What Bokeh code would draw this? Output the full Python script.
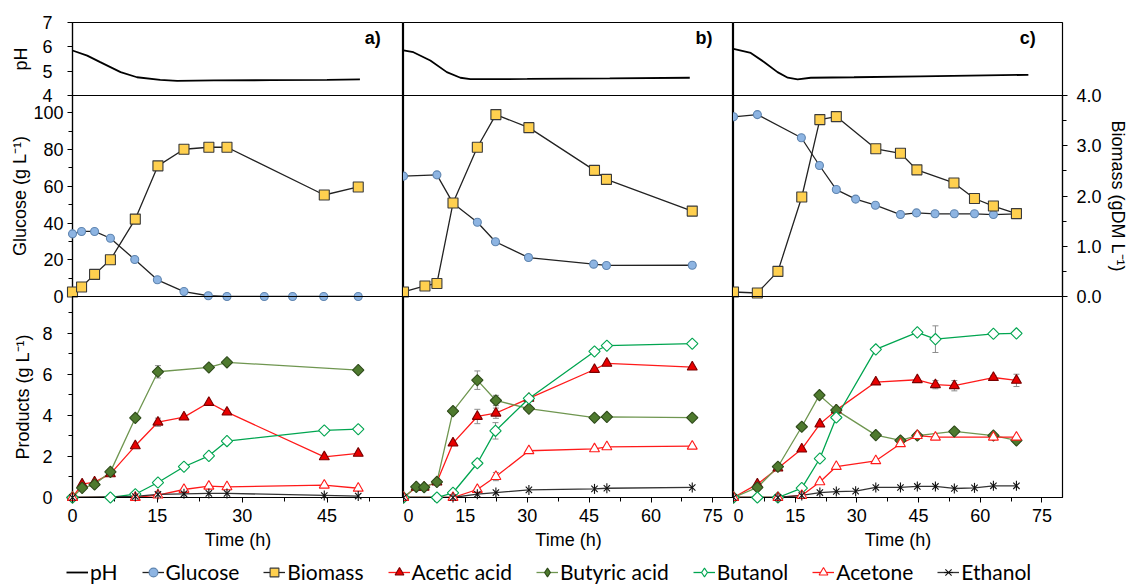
import math
from bokeh.plotting import figure
from bokeh.layouts import row, column
from bokeh.models import (Range1d, LinearAxis, FixedTicker, Whisker, TeeHead,
                          ColumnDataSource, Legend, LegendItem, Label, NumeralTickFormatter)
from bokeh.embed import file_html
from bokeh.resources import INLINE

# ---------------- data: panel a ----------------
a_ph_t = [0, 2.6, 4.9, 8.5, 11.4, 15.5, 18.5, 25, 35, 45, 50.8]
a_ph = [5.85, 5.64, 5.37, 4.96, 4.75, 4.64, 4.60, 4.62, 4.63, 4.64, 4.66]
a_glc_t = [0, 1.6, 3.9, 6.7, 11.0, 15.0, 19.7, 24.0, 27.3, 33.9, 38.9, 44.4, 50.5]
a_glc = [34.1, 35.4, 35.4, 31.7, 20.1, 9.1, 2.7, 0.4, 0, 0, 0, 0, 0]
a_bio_t = [0, 1.6, 3.9, 6.7, 11.1, 15.1, 19.7, 24.1, 27.3, 44.5, 50.5]
a_bio = [0.09, 0.19, 0.44, 0.73, 1.54, 2.60, 2.93, 2.97, 2.97, 2.02, 2.18]
a_acet_t = [0, 1.7, 3.9, 6.7, 11.1, 15.1, 19.7, 24.1, 27.3, 44.5, 50.5]
a_acet = [0, 0.65, 0.75, 1.15, 2.52, 3.67, 3.92, 4.63, 4.16, 1.98, 2.15]
a_buty_t = [0, 1.7, 3.9, 6.7, 11.1, 15.1, 24.1, 27.3, 50.5]
a_buty = [0, 0.47, 0.63, 1.25, 3.88, 6.13, 6.34, 6.59, 6.21]
a_buta_t = [0, 6.7, 11.1, 15.1, 19.7, 24.1, 27.3, 44.5, 50.5]
a_buta = [0, 0, 0.16, 0.73, 1.50, 2.03, 2.75, 3.27, 3.33]
a_acto_t = [0, 11.1, 15.1, 19.7, 24.1, 27.3, 44.5, 50.5]
a_acto = [0, 0, 0.12, 0.39, 0.55, 0.52, 0.60, 0.45]
a_eth_t = [0, 11.1, 15.1, 19.7, 24.1, 27.3, 44.5, 50.5]
a_eth = [0, 0.05, 0.15, 0.18, 0.20, 0.20, 0.10, 0.07]
a_err_x = [15.1, 15.1]
a_err_y = [6.13, 3.67]
a_err_d = [0.3, 0.2]

# ---------------- data: panel b ----------------
b_ph_t = [0, 2.4, 6.5, 10.5, 13.8, 16.2, 30, 50, 69.4]
b_ph = [5.85, 5.78, 5.44, 4.96, 4.73, 4.67, 4.68, 4.70, 4.73]
b_glc_t = [0, 8.1, 12.0, 17.9, 22.3, 30.3, 46.1, 49.2, 70.0]
b_glc = [65.5, 66.2, 50.8, 40.4, 29.8, 21.2, 17.6, 16.9, 17.0]
b_bio_t = [0, 5.2, 8.1, 12.0, 17.9, 22.4, 30.4, 46.3, 49.2, 70.0]
b_bio = [0.09, 0.21, 0.26, 1.86, 2.97, 3.62, 3.36, 2.51, 2.33, 1.70]
b_acet_t = [0, 3.1, 5.0, 8.1, 12.0, 17.9, 22.4, 30.4, 46.3, 49.3, 70.0]
b_acet = [0, 0.50, 0.50, 0.75, 2.65, 3.95, 4.11, 4.83, 6.24, 6.54, 6.36]
b_buty_t = [0, 3.1, 5.0, 8.1, 12.0, 17.9, 22.4, 30.4, 46.3, 49.3, 70.0]
b_buty = [0, 0.52, 0.50, 0.76, 4.21, 5.72, 4.73, 4.33, 3.89, 3.93, 3.89]
b_buta_t = [0, 8.1, 12.0, 17.9, 22.3, 30.4, 46.3, 49.3, 70.0]
b_buta = [0, 0, 0.23, 1.67, 3.25, 4.83, 7.12, 7.40, 7.50]
b_acto_t = [0, 12.0, 17.9, 22.4, 30.4, 46.3, 49.3, 70.0]
b_acto = [0, 0, 0.39, 1.02, 2.28, 2.37, 2.47, 2.50]
b_eth_t = [0, 12.0, 17.9, 22.4, 30.4, 46.3, 49.3, 70.0]
b_eth = [0, 0, 0.16, 0.24, 0.37, 0.42, 0.45, 0.49]
b_err_x = [17.9, 17.9, 22.4, 22.4, 22.3, 22.4]
b_err_y = [5.72, 3.95, 4.73, 4.11, 3.25, 1.02]
b_err_d = [0.45, 0.35, 0.25, 0.25, 0.4, 0.2]

# ---------------- data: panel c ----------------
c_ph_t = [0, 4.2, 7.5, 10.7, 13.2, 15.6, 18.8, 29.3, 45.4, 71.7]
c_ph = [5.92, 5.75, 5.37, 4.96, 4.73, 4.66, 4.73, 4.75, 4.79, 4.85]
c_glc_t = [0, 5.8, 16.5, 20.9, 25.0, 29.7, 34.5, 40.6, 44.5, 49.0, 53.7, 58.6, 63.2, 68.8]
c_glc = [97.8, 99.0, 86.4, 71.3, 58.2, 53.0, 49.7, 44.6, 45.5, 45.0, 45.0, 45.0, 44.6, 45.0]
c_bio_t = [0, 5.8, 10.8, 16.6, 21.0, 25.0, 34.6, 40.6, 44.6, 53.6, 58.6, 63.2, 68.8]
c_bio = [0.09, 0.07, 0.50, 1.98, 3.52, 3.58, 2.94, 2.85, 2.52, 2.26, 1.95, 1.80, 1.65]
c_acet_t = [0, 5.8, 10.8, 16.6, 21.0, 25.0, 34.6, 44.7, 49.1, 53.7, 63.2, 68.8]
c_acet = [0, 0.65, 1.43, 2.36, 3.58, 4.26, 5.63, 5.74, 5.50, 5.45, 5.85, 5.71]
c_buty_t = [0, 5.8, 10.8, 16.6, 20.9, 25.0, 34.6, 40.6, 44.7, 53.7, 63.2, 68.8]
c_buty = [0, 0.49, 1.50, 3.45, 4.99, 4.26, 3.04, 2.78, 3.02, 3.22, 3.02, 2.78]
c_buta_t = [0, 5.8, 10.8, 16.6, 21.0, 25.0, 34.6, 44.7, 49.1, 63.2, 68.8]
c_buta = [0, 0, 0, 0.46, 1.90, 3.90, 7.22, 8.05, 7.72, 7.98, 8.00]
c_acto_t = [0, 10.8, 16.6, 21.0, 25.0, 34.6, 40.6, 44.7, 49.1, 63.2, 68.8]
c_acto = [0, 0, 0.10, 0.76, 1.51, 1.79, 2.62, 3.02, 2.94, 2.94, 2.94]
c_eth_t = [0, 10.8, 16.6, 21.0, 25.0, 29.7, 34.6, 40.6, 44.7, 49.1, 53.7, 58.6, 63.2, 68.8]
c_eth = [0, 0, 0.10, 0.24, 0.29, 0.31, 0.49, 0.49, 0.54, 0.54, 0.44, 0.47, 0.57, 0.57]
c_err_x = [49.1, 49.1, 53.7, 63.2, 68.8]
c_err_y = [7.72, 5.50, 5.45, 5.85, 5.71]
c_err_d = [0.65, 0.2, 0.25, 0.1, 0.3]

# ---------------- labels / ticks ----------------
panel_tags = ["a)", "b)", "c)"]
x_max = [58.5, 80.0, 80.0]
x_ticks = [[0, 15, 30, 45], [0, 15, 30, 45, 60, 75], [0, 15, 30, 45, 60, 75]]
ph_ticks = [4, 5, 6, 7]
glc_ticks = [0, 20, 40, 60, 80, 100]
prod_ticks = [0, 2, 4, 6, 8]
bio_ticks = [0, 1, 2, 3, 4]
legend_labels = ["pH", "Glucose", "Biomass", "Acetic acid", "Butyric acid", "Butanol", "Acetone", "Ethanol"]

FONT = "Liberation Sans"
LFONT = "Lato"
FWS = [331, 330, 329]
H_PH, H_MID, H_PROD = 73, 201, 201
LEFT, RIGHT, TOP, BOTTOM = 72, 67, 22, 58
OV = 10  # overlap border so that edge tick labels are not cut
DIAM = math.pi / 4

# series styles: list of marker layers (marker, size, angle)
ST = {
    "glc": dict(marks=[("circle", 8, 0)], fill="#8DB4E2", mline="#5F85B0", line="#222222"),
    "bio": dict(marks=[("square", 10, 0)], fill="#FFD04F", mline="#3A3A3A", line="#222222"),
    "acet": dict(marks=[("triangle", 10, 0)], fill="#E80000", mline="#7A0000", line="#FF1A1A"),
    "buty": dict(marks=[("square", 8, DIAM)], fill="#4E7A2E", mline="#2E4A1A", line="#6F9650",
                 leg=[("diamond", 13, 0)]),
    "buta": dict(marks=[("square", 8, DIAM)], fill="white", mline="#00A550", line="#00A550",
                 leg=[("diamond", 13, 0)]),
    "acto": dict(marks=[("triangle", 10, 0)], fill="white", mline="#FF1A1A", line="#FF1A1A"),
    "eth": dict(marks=[("x", 9, 0), ("dash", 10, math.pi / 2)], fill="black",
                mline="#111111", line="#333333"),
}


def base_fig(fw, xmax, yr, fh, left=0, right=0, top=0, bottom=0, xaxis=False):
    p = figure(frame_width=fw, frame_height=fh, x_range=Range1d(0, xmax), y_range=yr,
               output_backend="svg", toolbar_location=None,
               x_axis_location="below" if xaxis else None, y_axis_location=None)
    p.min_border = 0
    p.min_border_left = left
    p.min_border_right = right
    p.min_border_top = top
    p.min_border_bottom = bottom
    p.grid.visible = False
    p.outline_line_color = "black"
    p.outline_line_width = 1.2
    p.background_fill_color = None
    p.border_fill_color = None
    return p


def style_axis(ax, label_standoff=2, tick_standoff=4):
    ax.major_label_text_font = FONT
    ax.major_label_text_font_size = "18px"
    ax.major_label_text_color = "black"
    ax.axis_label_text_font = FONT
    ax.axis_label_text_font_size = "18px"
    ax.axis_label_text_font_style = "normal"
    ax.axis_label_text_color = "black"
    ax.axis_line_color = "black"
    ax.axis_line_width = 1.2
    ax.major_tick_line_color = "black"
    ax.minor_tick_line_color = "black"
    ax.major_tick_out = 5
    ax.major_tick_in = 0
    ax.minor_tick_out = 4
    ax.minor_tick_in = 0
    ax.major_label_standoff = tick_standoff
    ax.axis_label_standoff = label_standoff


def add_marks(p, x, y, key, yname="default", source=None, legend=False):
    s = ST[key]
    rs = []
    marks = s.get("leg", s["marks"]) if legend else s["marks"]
    for m, size, ang in marks:
        kw = dict(marker=m, size=size, angle=ang, fill_color=s["fill"],
                  line_color=s["mline"], line_width=1.1, y_range_name=yname)
        if source is not None:
            kw["source"] = source
        r = p.scatter(x=x, y=y, **kw)
        r.level = "overlay"
        rs.append(r)
    return rs


def add_series(p, t, v, key, yname="default"):
    s = ST[key]
    src = ColumnDataSource(dict(x=t, y=v))
    p.line(x="x", y="y", source=src, line_color=s["line"], line_width=1.3, y_range_name=yname)
    return add_marks(p, "x", "y", key, yname, source=src)


def add_err(p, xs, ys, ds):
    src = ColumnDataSource(dict(x=xs, lo=[y - d for y, d in zip(ys, ds)],
                                hi=[y + d for y, d in zip(ys, ds)]))
    w = Whisker(base="x", lower="lo", upper="hi", source=src, dimension="height",
                line_color="#8C8C8C", line_width=1,
                upper_head=TeeHead(size=6, line_color="#8C8C8C", line_width=1),
                lower_head=TeeHead(size=6, line_color="#8C8C8C", line_width=1))
    p.add_layout(w)


panels = [
    (a_ph_t, a_ph, a_glc_t, a_glc, a_bio_t, a_bio,
     [(a_acet_t, a_acet, "acet"), (a_buty_t, a_buty, "buty"), (a_buta_t, a_buta, "buta"),
      (a_acto_t, a_acto, "acto"), (a_eth_t, a_eth, "eth")], (a_err_x, a_err_y, a_err_d)),
    (b_ph_t, b_ph, b_glc_t, b_glc, b_bio_t, b_bio,
     [(b_acet_t, b_acet, "acet"), (b_buty_t, b_buty, "buty"), (b_buta_t, b_buta, "buta"),
      (b_acto_t, b_acto, "acto"), (b_eth_t, b_eth, "eth")], (b_err_x, b_err_y, b_err_d)),
    (c_ph_t, c_ph, c_glc_t, c_glc, c_bio_t, c_bio,
     [(c_acet_t, c_acet, "acet"), (c_buty_t, c_buty, "buty"), (c_buta_t, c_buta, "buta"),
      (c_acto_t, c_acto, "acto"), (c_eth_t, c_eth, "eth")], (c_err_x, c_err_y, c_err_d)),
]

tag_offset = [4.0, 5.1, 6.5]
row_ph, row_mid, row_prod = [], [], []
for i, (pht, ph, gt, gv, bt, bv, prods, errs) in enumerate(panels):
    left = LEFT if i == 0 else 0
    right = RIGHT if i == 2 else 0
    xm = x_max[i]
    fw = FWS[i]
    minor = [t + 7.5 for t in x_ticks[i] if t + 7.5 < xm]

    # pH panel
    p1 = base_fig(fw, xm, Range1d(4, 7), H_PH, left=left, right=right, top=TOP, bottom=OV)
    p1.line(x=pht, y=ph, line_color="black", line_width=1.8)
    p1.add_layout(Label(x=xm - tag_offset[i], y=6.78, text=panel_tags[i], text_align="right",
                        text_baseline="top", text_font=FONT, text_font_size="18px",
                        text_font_style="bold", text_color="black"))
    if i == 0:
        ax = LinearAxis(ticker=FixedTicker(ticks=ph_ticks), axis_label="pH")
        style_axis(ax, label_standoff=8, tick_standoff=15)
        p1.add_layout(ax, "left")
    row_ph.append(p1)

    # glucose / biomass panel
    p2 = base_fig(fw, xm, Range1d(0, 109.4), H_MID, left=left, right=right, top=OV, bottom=OV)
    p2.extra_y_ranges = {"bio": Range1d(0, 4)}
    add_series(p2, gt, gv, "glc")
    add_series(p2, bt, bv, "bio", yname="bio")
    if i == 0:
        ax = LinearAxis(ticker=FixedTicker(ticks=glc_ticks, minor_ticks=[10, 30, 50, 70, 90]),
                        axis_label="Glucose (g L\u207b\u00b9)")
        style_axis(ax, label_standoff=0, tick_standoff=4)
        p2.add_layout(ax, "left")
    if i == 2:
        ax = LinearAxis(y_range_name="bio",
                        ticker=FixedTicker(ticks=bio_ticks, minor_ticks=[0.5, 1.5, 2.5, 3.5]),
                        axis_label="Biomass (gDM L\u207b\u00b9)",
                        formatter=NumeralTickFormatter(format="0.0"))
        style_axis(ax, label_standoff=3, tick_standoff=9)
        p2.add_layout(ax, "right")
    row_mid.append(p2)

    # products panel
    p3 = base_fig(fw, xm, Range1d(0, 9.8), H_PROD, left=left, right=right, top=OV,
                  bottom=BOTTOM, xaxis=True)
    xa = p3.xaxis[0]
    xa.ticker = FixedTicker(ticks=x_ticks[i], minor_ticks=minor)
    xa.axis_label = "Time (h)"
    style_axis(xa, label_standoff=5, tick_standoff=6)
    add_err(p3, *errs)
    for t, v, key in prods:
        add_series(p3, t, v, key)
    if i == 0:
        ax = LinearAxis(ticker=FixedTicker(ticks=prod_ticks, minor_ticks=[1, 3, 5, 7, 9]),
                        axis_label="Products (g L\u207b\u00b9)")
        style_axis(ax, label_standoff=6, tick_standoff=15)
        p3.add_layout(ax, "left")
    row_prod.append(p3)

r1 = row(*row_ph, spacing=0)
r2 = row(*row_mid, spacing=0, margin=(-2 * OV, 0, 0, 0))
r3 = row(*row_prod, spacing=0, margin=(-2 * OV, 0, 0, 0))

# ---------------- legend strip ----------------
TOTAL_W = LEFT + sum(FWS) + RIGHT
pl = figure(width=TOTAL_W, height=30, x_range=Range1d(0, 1), y_range=Range1d(0, 1),
            output_backend="svg", toolbar_location=None,
            x_axis_location=None, y_axis_location=None)
pl.min_border = 0
pl.grid.visible = False
pl.outline_line_color = None
pl.border_fill_color = None
pl.background_fill_color = None

items = []
r_ph = pl.line(x=[-5, -4], y=[-5, -5], line_color="black", line_width=1.8)
items.append(LegendItem(label=legend_labels[0], renderers=[r_ph]))
for lab, key in zip(legend_labels[1:], ["glc", "bio", "acet", "buty", "buta", "acto", "eth"]):
    s = ST[key]
    lr = pl.line(x=[-5, -4], y=[-5, -5], line_color=s["line"], line_width=1.3)
    srs = add_marks(pl, [-5], [-5], key, legend=True)
    items.append(LegendItem(label=lab, renderers=[lr] + srs))

leg = Legend(items=items, orientation="horizontal", location=(66, 1),
             label_text_font=LFONT, label_text_font_size="21px", label_text_color="black",
             glyph_width=22, glyph_height=24, label_standoff=2, spacing=24,
             padding=0, margin=0, border_line_alpha=0, background_fill_alpha=0)
pl.add_layout(leg, "center")

layout = column(r1, r2, r3, pl, spacing=0)

open("out.html", "w").write(file_html(layout, INLINE))
